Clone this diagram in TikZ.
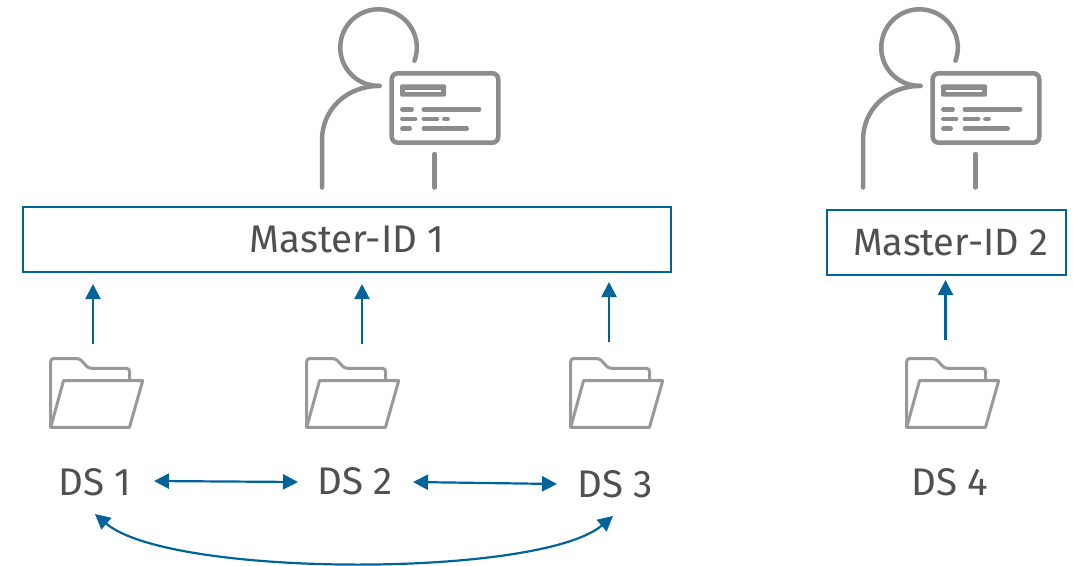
\documentclass[tikz,border=0pt]{standalone}
\usepackage{fontspec}
\setmainfont{Fira Sans}
\usetikzlibrary{arrows.meta}
\definecolor{iconc}{HTML}{8C8C8C}
\definecolor{folderc}{HTML}{999999}
\definecolor{linkc}{HTML}{00639A}
\definecolor{textc}{HTML}{505050}
\tikzset{
  x=1pt,y=-1pt,
  iconline/.style={draw=iconc,line width=4.5pt,line cap=round,line join=round},
  idbox/.style={draw=linkc,line width=1.5pt,fill=white,text=textc,font=\fontsize{38.5}{42}\selectfont,inner sep=0pt},
  dslabel/.style={text=textc,font=\fontsize{38.5}{42}\selectfont,inner sep=0pt},
  link/.style={draw=linkc,line width=2.2pt,-{Triangle[length=15pt,width=15pt]}},
  dlink/.style={draw=linkc,line width=2.2pt,{Triangle[length=15pt,width=15pt]}-{Triangle[length=15pt,width=15pt]}},
  pics/person/.style={code={
    \draw[iconline] (414.5,60.7) arc[start angle=20,end angle=-270,radius=38.3] -- (379.5,85.9);
    \draw[iconline] (379.5,85.9) .. controls (346,85.9) and (322,110) .. (322,140) -- (322,187.5);
    \draw[iconline,rounded corners=6pt] (391.7,73.3) rectangle (498.3,142.7);
    \fill[iconc,rounded corners=2pt] (400,84.3) rectangle (446,96.7);
    \draw[white,line width=1.6pt] (404.5,90.7) -- (440.5,90.7);
    \draw[iconline,line width=4.9pt]
      (402.5,109.3)--(411.5,109.3) (424,109.3)--(479,109.3)
      (402.5,119)--(415,119) (424,119)--(437,119) (444.5,119)--(447.5,119)
      (402.5,128.7)--(409.5,128.7) (424,128.7)--(466.5,128.7);
    \draw[iconline] (434.7,154)--(434.7,187.5);
  }},
  pics/folder/.style={code={
    \draw[draw=folderc,line width=3pt,line join=round,rounded corners=3pt]
      (50.7,427.3) -- (50.7,358.5) -- (79.5,358.5) -- (88.5,368.3) -- (129.5,368.3) -- (129.5,380.7);
    \draw[draw=folderc,line width=3pt,line join=round]
      (63.5,380.7) -- (142.7,380.7) -- (129.5,427.3) -- (50.7,427.3) -- cycle;
  }},
}
\begin{document}
\begin{tikzpicture}
\useasboundingbox (0,0) rectangle (1073,565);
\pic at (0,0) {person};
\pic at (541,0) {person};
\node[idbox,minimum width=648pt,minimum height=65pt] (m1) at (347,239.5) {Master-ID 1};
\node[idbox,minimum width=239pt,minimum height=65pt] (m2) at (946.5,242.5) {\hspace*{8pt}\fontsize{38}{42}\selectfont Master-ID 2};
\pic at (0,0) {folder};
\pic at (256,0) {folder};
\pic at (520,0) {folder};
\pic at (856,0) {folder};
\node[dslabel] (d1) at (95,482) {DS 1};
\node[dslabel] (d2) at (355,481) {DS 2};
\node[dslabel] (d3) at (615,484) {DS 3};
\node[dslabel] (d4) at (950,482) {DS 4};
\coordinate (f1) at (93,344); \coordinate (t1) at (93,284);
\coordinate (f2) at (362,344); \coordinate (t2) at (362,284);
\coordinate (f3) at (609,342); \coordinate (t3) at (609,282);
\coordinate (f4) at (945.5,340); \coordinate (t4) at (945.5,280);
\draw[link] (f1) -- (t1);
\draw[link] (f2) -- (t2);
\draw[link] (f3) -- (t3);
\draw[link] (f4) -- (t4);
\coordinate (a1) at (154,481); \coordinate (a2) at (298,482);
\coordinate (b1) at (413,482); \coordinate (b2) at (557,484);
\coordinate (c1) at (95,514); \coordinate (c2) at (613,516);
\draw[dlink] (a1) -- (a2);
\draw[dlink] (b1) -- (b2);
\draw[dlink] (c1) .. controls (170,578) and (540,578) .. (c2);
\end{tikzpicture}
\end{document}
